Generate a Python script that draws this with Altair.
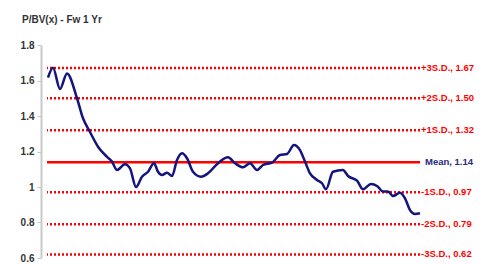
import altair as alt
import pandas as pd

# time index (relative position along the period) and P/BV values
period = [1, 6, 13, 20, 30, 36, 43, 51, 60, 65, 70, 78, 83, 89, 95, 101, 107, 111, 115, 120,
          125, 130, 135, 140, 146, 154, 161, 171, 181, 188, 196, 203, 210, 216, 225, 233, 240,
          247, 253, 258, 263, 270, 275, 279, 286, 296, 301, 310, 316, 324, 330, 336, 341, 346,
          353, 358, 363, 368, 373]
pbv = [1.616, 1.672, 1.552, 1.640, 1.500, 1.387, 1.310, 1.227, 1.170, 1.143, 1.096, 1.128,
       1.105, 1.000, 1.058, 1.086, 1.134, 1.086, 1.068, 1.080, 1.062, 1.152, 1.190, 1.162,
       1.086, 1.058, 1.077, 1.134, 1.167, 1.134, 1.111, 1.134, 1.096, 1.124, 1.137, 1.180,
       1.186, 1.237, 1.208, 1.143, 1.077, 1.040, 1.021, 0.987, 1.086, 1.096, 1.062, 1.036,
       0.987, 1.017, 1.006, 0.974, 0.974, 0.949, 0.968, 0.936, 0.870, 0.848, 0.852]

sd_names = ["+3S.D.", "+2S.D.", "+1S.D.", "-1S.D.", "-2S.D.", "-3S.D."]
sd_values = [1.67, 1.50, 1.32, 0.97, 0.79, 0.62]
mean_name = "Mean"
mean_value = 1.14
y_ticks = [0.6, 0.8, 1.0, 1.2, 1.4, 1.6, 1.8]

W, H = 373, 213
FONT = "Liberation Sans"

line_df = pd.DataFrame({"period": period, "pbv": pbv})
sd_df = pd.DataFrame({"name": sd_names, "value": sd_values})
sd_df["label"] = [f"{n}, {v:.2f}" for n, v in zip(sd_names, sd_values)]
mean_df = pd.DataFrame({"name": [mean_name], "value": [mean_value]})
mean_df["label"] = [f"{mean_name}, {mean_value:.2f}"]

yscale = alt.Scale(domain=[0.6, 1.8], nice=False, zero=False)
xscale = alt.Scale(domain=[0, 373], nice=False, zero=False)
yaxis = alt.Axis(
    values=y_ticks, tickCount=7, format="~g", grid=False, labelOverlap=False,
    domainColor="#c8c8c8", domainWidth=2, tickColor="#c8c8c8", tickSize=4,
    labelPadding=3, labelFont=FONT, labelFontSize=10, labelFontWeight="bold",
    labelColor="#333333", offset=6, title=None)


def Y(field):
    return alt.Y(field, scale=yscale, axis=yaxis)


sd_rules = alt.Chart(sd_df).mark_rule(
    color="#ff0000", strokeWidth=2.5, strokeDash=[2, 2]
).encode(y=Y("value:Q"))

mean_rule = alt.Chart(mean_df).mark_rule(color="#ff0000", strokeWidth=2.5).encode(
    y=Y("value:Q"))

base_line = alt.Chart(line_df).mark_line(
    color="#14147e", strokeWidth=2.5, interpolate="monotone"
).encode(
    x=alt.X("period:Q", scale=xscale, axis=None),
    y=Y("pbv:Q"),
)

sd_text = alt.Chart(sd_df).mark_text(
    align="left", baseline="middle", color="#ff0000", font=FONT, fontSize=9.5,
    fontWeight="bold", dx=1
).encode(y=Y("value:Q"), x=alt.value(W), text="label:N")

mean_text = alt.Chart(mean_df).mark_text(
    align="left", baseline="middle", color="#2a2a80", font=FONT, fontSize=9.5,
    fontWeight="bold", dx=5
).encode(y=Y("value:Q"), x=alt.value(W), text="label:N")

title = alt.Chart(pd.DataFrame({"t": ["P/BV(x) -  Fw 1 Yr"]})).mark_text(
    align="left", baseline="middle", color="#333333", font=FONT, fontSize=10,
    fontWeight="bold"
).encode(x=alt.value(-25), y=alt.value(-25), text="t:N")

chart = alt.layer(sd_rules, mean_rule, base_line, sd_text, mean_text, title).properties(
    width=W, height=H,
    autosize=alt.AutoSizeParams(type="none"),
    padding={"left": 39, "top": 37, "right": 60, "bottom": 6},
).configure_view(stroke=None)

chart.save("out.html", embed_options={"renderer": "svg", "actions": False})
